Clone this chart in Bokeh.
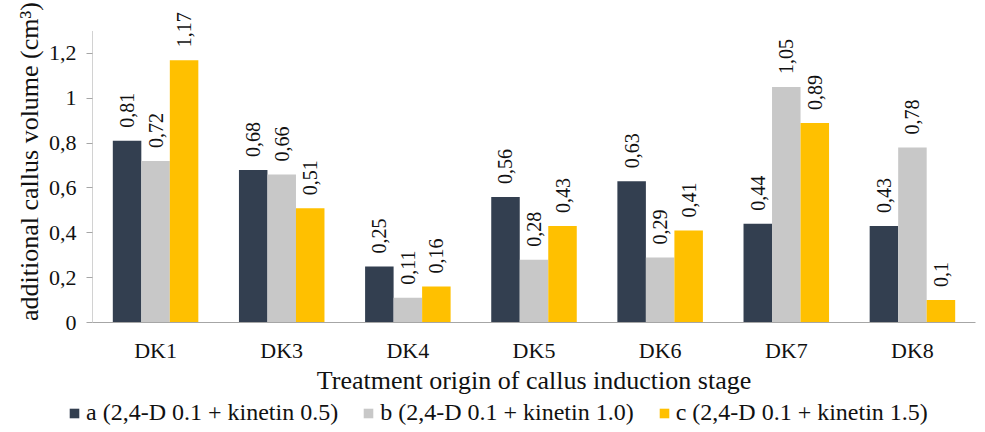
import math
from bokeh.plotting import figure
from bokeh.layouts import column, row
from bokeh.models import (ColumnDataSource, FactorRange, Legend, LegendItem, CustomJSTickFormatter,
                          FixedTicker, Title, Range1d)
from bokeh.transform import dodge
from bokeh.core.properties import value
from bokeh.embed import file_html
from bokeh.resources import INLINE

categories = ["DK1", "DK3", "DK4", "DK5", "DK6", "DK7", "DK8"]
series_a = [0.81, 0.68, 0.25, 0.56, 0.63, 0.44, 0.43]
series_b = [0.72, 0.66, 0.11, 0.28, 0.29, 1.05, 0.78]
series_c = [1.17, 0.51, 0.16, 0.43, 0.41, 0.89, 0.10]
series_names = ["a (2,4-D 0.1 + kinetin 0.5)", "b (2,4-D 0.1 + kinetin 1.0)", "c (2,4-D 0.1 + kinetin 1.5)"]
colors = ["#333F50", "#C8C8C8", "#FFC000"]
y_ticks = [0, 0.2, 0.4, 0.6, 0.8, 1.0, 1.2]
y_axis_max = 1.3

FONT = "Liberation Serif"
TXT = "#111111"

def fmt(v):
    s = ("%.2f" % v).rstrip("0").rstrip(".")
    return s.replace(".", ",")

data = dict(cat=categories, a=series_a, b=series_b, c=series_c,
            la=[fmt(v) for v in series_a], lb=[fmt(v) for v in series_b], lc=[fmt(v) for v in series_c])
src = ColumnDataSource(data)

p = figure(x_range=FactorRange(*categories, range_padding=0), y_range=(0, 1.436),
           frame_width=883, frame_height=322, output_backend="svg", toolbar_location=None,
           min_border_left=92, min_border_right=5, min_border_top=0, min_border_bottom=74)
p.outline_line_color = None
p.grid.grid_line_color = None
p.background_fill_color = "white"

# y axis line only up to the axis maximum
axis_src = ColumnDataSource(dict(cat=[categories[0]], y0=[0], y1=[y_axis_max]))
p.segment(x0=dodge("cat", -0.5, range=p.x_range), x1=dodge("cat", -0.5, range=p.x_range),
          y0="y0", y1="y1", source=axis_src, line_color="#A6A6A6", line_width=1)

bw = 0.226
for key, off, col in zip(["a", "b", "c"], [-bw, 0, bw], colors):
    p.vbar(x=dodge("cat", off, range=p.x_range), top=key, width=bw, source=src,
           fill_color=col, line_color=None)
    p.text(x=dodge("cat", off, range=p.x_range), y=key, text="l" + key, source=src,
           angle=math.pi / 2, text_align="left", text_baseline="middle",
           x_offset=0, y_offset=-13, text_font=value(FONT), text_font_size="20px",
           text_color=TXT)

p.yaxis.ticker = FixedTicker(ticks=y_ticks)
p.yaxis.formatter = CustomJSTickFormatter(code="var s = (Math.round(tick*10)/10).toString(); return s.replace('.', ',');")
p.yaxis.major_label_text_font = FONT
p.yaxis.major_label_text_font_size = "22px"
p.yaxis.major_label_text_color = TXT
p.yaxis.major_label_standoff = 10
p.yaxis.axis_line_color = None
p.yaxis.major_tick_line_color = "#A6A6A6"
p.yaxis.major_tick_out = 6
p.yaxis.major_tick_in = 0
p.yaxis.minor_tick_line_color = None

ytitle = Title(text="additional callus volume (cm³)", align="center", offset=-28,
               text_font=FONT, text_font_size="26px", text_font_style="normal",
               text_color=TXT, standoff=4)
p.add_layout(ytitle, "left")

p.xaxis.axis_label = "Treatment origin of callus induction stage"
p.xaxis.axis_label_text_font = FONT
p.xaxis.axis_label_text_font_size = "26px"
p.xaxis.axis_label_text_font_style = "normal"
p.xaxis.axis_label_text_color = TXT
p.xaxis.axis_label_standoff = 0
p.xaxis.major_label_text_font = FONT
p.xaxis.major_label_text_font_size = "22px"
p.xaxis.major_label_text_color = TXT
p.xaxis.major_label_standoff = 9
p.xaxis.axis_line_color = "#A6A6A6"
p.xaxis.major_tick_line_color = None
p.xaxis.minor_tick_line_color = None

# legend strip below the chart; its bars are placed far outside its visible area
leg = figure(width=980, height=36, output_backend="svg", toolbar_location=None,
             x_range=FactorRange(*categories), y_range=Range1d(-20, -19),
             x_axis_type=None, y_axis_type=None, min_border=0)
leg.outline_line_color = None
leg.grid.grid_line_color = None
leg_renderers = [leg.vbar(x=dodge("cat", 100, range=leg.x_range), top=key, width=bw, source=src,
                          fill_color=col, line_color=None)
                 for key, col in zip(["a", "b", "c"], colors)]
legend = Legend(items=[LegendItem(label=n, renderers=[r]) for n, r in zip(series_names, leg_renderers)],
                orientation="horizontal", location=(68, 7))
legend.label_text_font = FONT
legend.label_text_font_size = "24px"
legend.label_text_color = TXT
legend.glyph_width = 12
legend.glyph_height = 12
legend.spacing = 24
legend.label_standoff = 6
legend.border_line_color = None
legend.background_fill_alpha = 0
legend.padding = 2
legend.margin = 0
leg.add_layout(legend, "center")

layout = column(p, row(leg), spacing=0)
open("out.html", "w").write(file_html(layout, INLINE))
